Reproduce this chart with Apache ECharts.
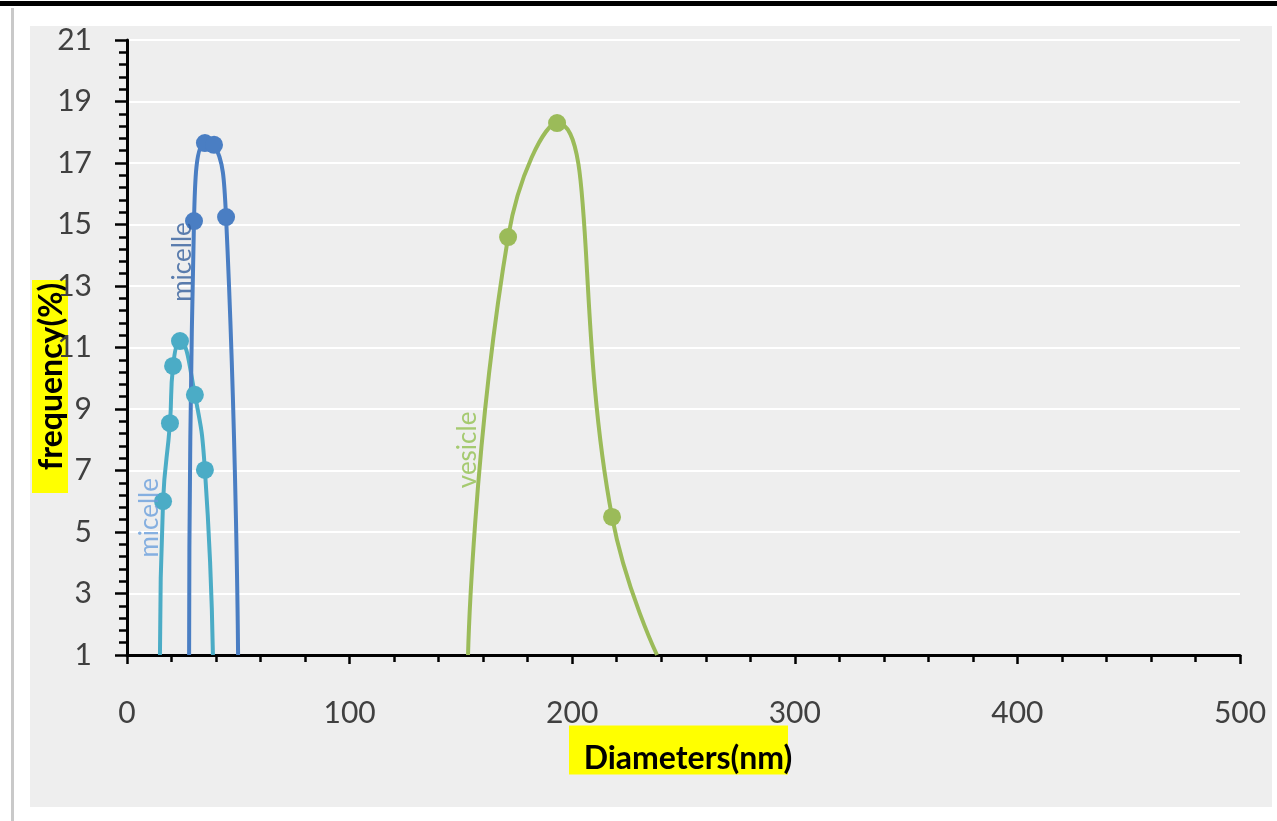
<!DOCTYPE html>
<html><head><meta charset="utf-8">
<script src="https://cdn.jsdelivr.net/npm/echarts@6/dist/echarts.min.js"></script>
<style>
html,body{margin:0;padding:0;background:#fff;width:1277px;height:821px;overflow:hidden;}
#topbar{position:absolute;left:0;top:1px;width:1277px;height:5px;background:#000;}
#leftline{position:absolute;left:11px;top:8px;width:3px;height:813px;background:#c9c9c9;}
#panel{position:absolute;left:30px;top:26px;width:1242px;height:781px;background:#eeeeee;}
#chart{position:absolute;left:0;top:0;width:1277px;height:821px;}
</style></head><body>
<div id="topbar"></div><div id="leftline"></div><div id="panel"></div><div id="chart"></div>
<script>
// Diameters (nm) and frequency (%).
// First and last entries are where each fitted curve meets the axis (no marker).
const micelleSmallX = [14.8, 16.2, 19.3, 20.7, 23.8, 30.5, 35.0, 38.6];
const micelleSmallY = [1, 6.0, 8.54, 10.40, 11.21, 9.46, 7.02, 1];
const micelleLargeX = [27.9, 30.1, 35.0, 39.1, 44.5, 49.9];
const micelleLargeY = [1, 15.11, 17.65, 17.59, 15.24, 1];
const vesicleX = [153.2, 171.2, 193.2, 217.9, 238.1];
const vesicleY = [1, 14.59, 18.30, 5.49, 1];

const xTitle = 'Diameters(nm)';
const yTitle = 'frequency(%)';
const seriesLabels = ['micelle', 'micelle', 'vesicle'];

function toData(xs, ys) {
  return xs.map((x, i) => {
    const item = { value: [x, ys[i]] };
    if (i === 0 || i === xs.length - 1) item.symbol = 'none';
    return item;
  });
}

const colors = ['#4bacc6', '#4a7ec3', '#9bbb59'];
const labelColors = ['#6a9fdc', '#355f9c', '#92c050'];
const labelAnchors = [[10.3, 5.46], [25.2, 13.78], [153.2, 7.67]];

function lineSeries(xs, ys, color) {
  return {
    type: 'line', data: toData(xs, ys), smooth: 0.5, clip: true,
    symbol: 'circle', symbolSize: 18, showAllSymbol: true,
    lineStyle: { color: color, width: 4 },
    itemStyle: { color: color },
    z: 3
  };
}

const chart = echarts.init(document.getElementById('chart'), null, { renderer: 'canvas' });
const font = 'Lato';
const option = {
  animation: false,
  backgroundColor: 'transparent',
  grid: { left: 127, right: 37, top: 40, bottom: 166, containLabel: false },
  xAxis: {
    type: 'value', min: 0, max: 500, interval: 100,
    axisLine: { show: true, onZero: false, lineStyle: { color: '#000', width: 3 } },
    axisTick: { show: true, length: 9, lineStyle: { color: '#000', width: 2.5 } },
    minorTick: { show: true, splitNumber: 5, length: 7, lineStyle: { color: '#000', width: 2.5 } },
    splitLine: { show: false },
    axisLabel: { margin: 43, fontFamily: font, fontSize: 30, color: '#404040' },
    name: '{hl|' + xTitle + '}', nameLocation: 'middle', nameGap: 79, nameMoveOverlap: false,
    nameTextStyle: {
      padding: [0, 10, 0, 0],
      rich: { hl: { fontFamily: font, fontWeight: 'bold', fontSize: 32, lineHeight: 32, color: '#000',
        backgroundColor: '#ffff00', width: 200, padding: [17, 0, 0, 19] } }
    }
  },
  yAxis: {
    type: 'value', min: 1, max: 21, interval: 2,
    axisLine: { show: true, onZero: false, lineStyle: { color: '#000', width: 3 } },
    axisTick: { show: true, length: 12, lineStyle: { color: '#000', width: 2.5 } },
    minorTick: { show: true, splitNumber: 5, length: 8, lineStyle: { color: '#000', width: 2.5 } },
    splitLine: { show: true, lineStyle: { color: '#ffffff', width: 2 } },
    axisLabel: { margin: 35, fontFamily: font, fontSize: 30, color: '#404040' },
    name: '{hl|' + yTitle + '}', nameLocation: 'middle', nameGap: 61, nameRotate: 90, nameMoveOverlap: false,
    nameTextStyle: {
      padding: [0, 78, 0, 0],
      rich: { hl: { fontFamily: font, fontWeight: 'bold', fontSize: 32, lineHeight: 32, color: '#000',
        backgroundColor: '#ffff00', width: 193, padding: [4, 0, 0, 20] } }
    }
  },
  series: [
    lineSeries(micelleSmallX, micelleSmallY, colors[0]),
    lineSeries(micelleLargeX, micelleLargeY, colors[1]),
    lineSeries(vesicleX, vesicleY, colors[2]),
    {
      type: 'scatter', silent: true, symbolSize: 0, z: 4,
      data: labelAnchors.map((p, i) => ({
        value: p,
        label: { show: true, formatter: seriesLabels[i], position: 'inside', rotate: 90,
          fontFamily: font, fontSize: 26, color: labelColors[i] }
      }))
    }
  ]
};
chart.setOption(option);
</script>
</body></html>
